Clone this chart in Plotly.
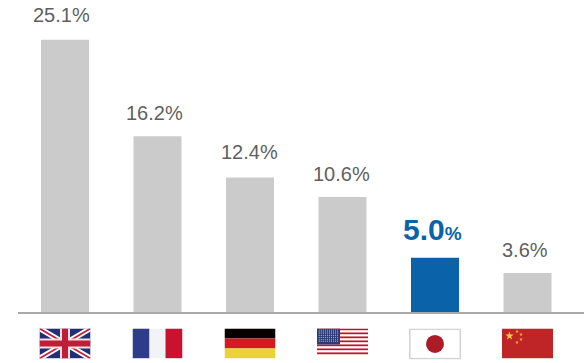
import base64
import math
import plotly.graph_objects as go

# Share of the total by country
countries = ["United Kingdom", "France", "Germany", "United States", "Japan", "China"]
shares = [25.1, 16.2, 12.4, 10.6, 5.0, 3.6]
highlight = "Japan"

GREY = "#cbcbcb"
BLUE = "#0a63a9"
TEXT = "#5f5f5f"

# Fine placement of each value label, in pixels
label_dx = [-4, -3, -1, -1, -3, -3]
label_dy = [12, 10, 13, 10, 10, 10]


def star(cx, cy, r, rot=-90):
    pts = []
    for i in range(10):
        rad = r if i % 2 == 0 else r * 0.4
        a = math.radians(rot + i * 36)
        pts.append(f"{cx + rad * math.cos(a):.2f},{cy + rad * math.sin(a):.2f}")
    return " ".join(pts)


def uk_flag():
    return (
        '<svg xmlns="http://www.w3.org/2000/svg" viewBox="0 0 51 30" preserveAspectRatio="none">'
        '<rect width="51" height="30" fill="#232f74"/>'
        '<path d="M0 0L51 30M51 0L0 30" stroke="#fff" stroke-width="5.5"/>'
        '<path d="M0 0L51 30M51 0L0 30" stroke="#c3203c" stroke-width="1.8"/>'
        '<path d="M25.5 0V30M0 15H51" stroke="#f4dfe2" stroke-width="10"/>'
        '<path d="M25.5 0V30M0 15H51" stroke="#bf1e37" stroke-width="6"/>'
        "</svg>"
    )


def france_flag():
    return (
        '<svg xmlns="http://www.w3.org/2000/svg" viewBox="0 0 50 30" preserveAspectRatio="none">'
        '<rect width="17" height="30" fill="#2f3c8c"/>'
        '<rect x="17" width="16" height="30" fill="#f2f3f6"/>'
        '<rect x="33" width="17" height="30" fill="#c8122f"/>'
        "</svg>"
    )


def germany_flag():
    return (
        '<svg xmlns="http://www.w3.org/2000/svg" viewBox="0 0 51 30" preserveAspectRatio="none">'
        '<rect width="51" height="10" fill="#060000"/>'
        '<rect y="10" width="51" height="10" fill="#d31a22"/>'
        '<rect y="20" width="51" height="10" fill="#ecd335"/>'
        "</svg>"
    )


def usa_flag():
    rows = []
    for i in range(13):
        colour = "#c4161f" if i % 2 == 0 else "#ffffff"
        rows.append(f'<rect y="{i * 2}" width="51" height="2" fill="{colour}"/>')
    dots = []
    for r in range(7):
        for c in range(10):
            dots.append(f'<circle cx="{2.2 + c * 2.05:.2f}" cy="{1.6 + r * 1.85:.2f}" r="0.55" fill="#b9c0dc"/>')
    return (
        '<svg xmlns="http://www.w3.org/2000/svg" viewBox="0 0 51 26" preserveAspectRatio="none">'
        + "".join(rows)
        + '<rect width="23" height="16" fill="#2b3a74"/>'
        + "".join(dots)
        + "</svg>"
    )


def japan_flag():
    return (
        '<svg xmlns="http://www.w3.org/2000/svg" viewBox="0 0 52 31" preserveAspectRatio="none">'
        '<rect x="0.75" y="0.75" width="50.5" height="29.5" fill="#fff" stroke="#d2d2d2" stroke-width="1.5"/>'
        '<circle cx="26" cy="15.5" r="9" fill="#ab1c28"/>'
        "</svg>"
    )


def china_flag():
    small = [(15, 3), (19, 6), (19, 11), (15, 14)]
    return (
        '<svg xmlns="http://www.w3.org/2000/svg" viewBox="0 0 51 30" preserveAspectRatio="none">'
        '<rect width="51" height="30" fill="#bf2426"/>'
        f'<polygon points="{star(7.5, 7.5, 4.4)}" fill="#f6c83c"/>'
        + "".join(f'<polygon points="{star(x, y, 1.9)}" fill="#eab332"/>' for x, y in small)
        + "</svg>"
    )


flags = [uk_flag(), france_flag(), germany_flag(), usa_flag(), japan_flag(), china_flag()]
flag_sizes = [(51, 30), (50, 30), (51, 30), (51, 26), (52, 31), (51, 30)]

WIDTH, HEIGHT = 584, 363
LEFT, BOTTOM = 18, 50.5
PLOT_H = HEIGHT - BOTTOM
CENTER0, STEP = 65, 92.5
x_range = [(LEFT - CENTER0) / STEP, (WIDTH - CENTER0) / STEP]
y_range = [0, PLOT_H / 10.86]

positions = list(range(len(countries)))
colors = [BLUE if c == highlight else GREY for c in countries]

fig = go.Figure(
    go.Bar(x=positions, y=shares, width=48 / STEP, marker=dict(color=colors, line_width=0),
           customdata=countries, hoverinfo="skip")
)

# Value labels above each bar; the highlighted one is larger and bold
for pos, value, country, dx, dy in zip(positions, shares, countries, label_dx, label_dy):
    if country == highlight:
        label = f'<b><span style="font-size:30px">{value:.1f}</span><span style="font-size:19px">%</span></b>'
        font = dict(color=BLUE, size=30)
    else:
        label = f"{value:.1f}%"
        font = dict(color=TEXT, size=20)
    fig.add_annotation(x=pos, y=value, text=label, showarrow=False, xanchor="center",
                       yanchor="bottom", yshift=dy, xshift=dx, font=font)

# Flags under the axis, centred on each bar
for pos, svg, (w, h) in zip(positions, flags, flag_sizes):
    uri = "data:image/svg+xml;base64," + base64.b64encode(svg.encode()).decode()
    fig.add_layout_image(dict(source=uri, xref="x", yref="paper", x=pos, xanchor="center",
                              y=-16.5 / PLOT_H, yanchor="top", sizex=w / STEP, sizey=h / PLOT_H,
                              sizing="stretch", layer="above"))

fig.update_layout(
    width=WIDTH,
    height=HEIGHT,
    margin=dict(l=LEFT, r=0, t=0, b=BOTTOM),
    paper_bgcolor="white",
    plot_bgcolor="white",
    showlegend=False,
    font=dict(family="Liberation Sans, Arial, sans-serif"),
    xaxis=dict(range=x_range, showgrid=False, zeroline=False, showticklabels=False, ticks="",
               showline=True, linecolor="#a9a9a9", linewidth=2, fixedrange=True),
    yaxis=dict(range=y_range, visible=False, fixedrange=True),
)

fig.write_html("out.html", config={"displayModeBar": False})
